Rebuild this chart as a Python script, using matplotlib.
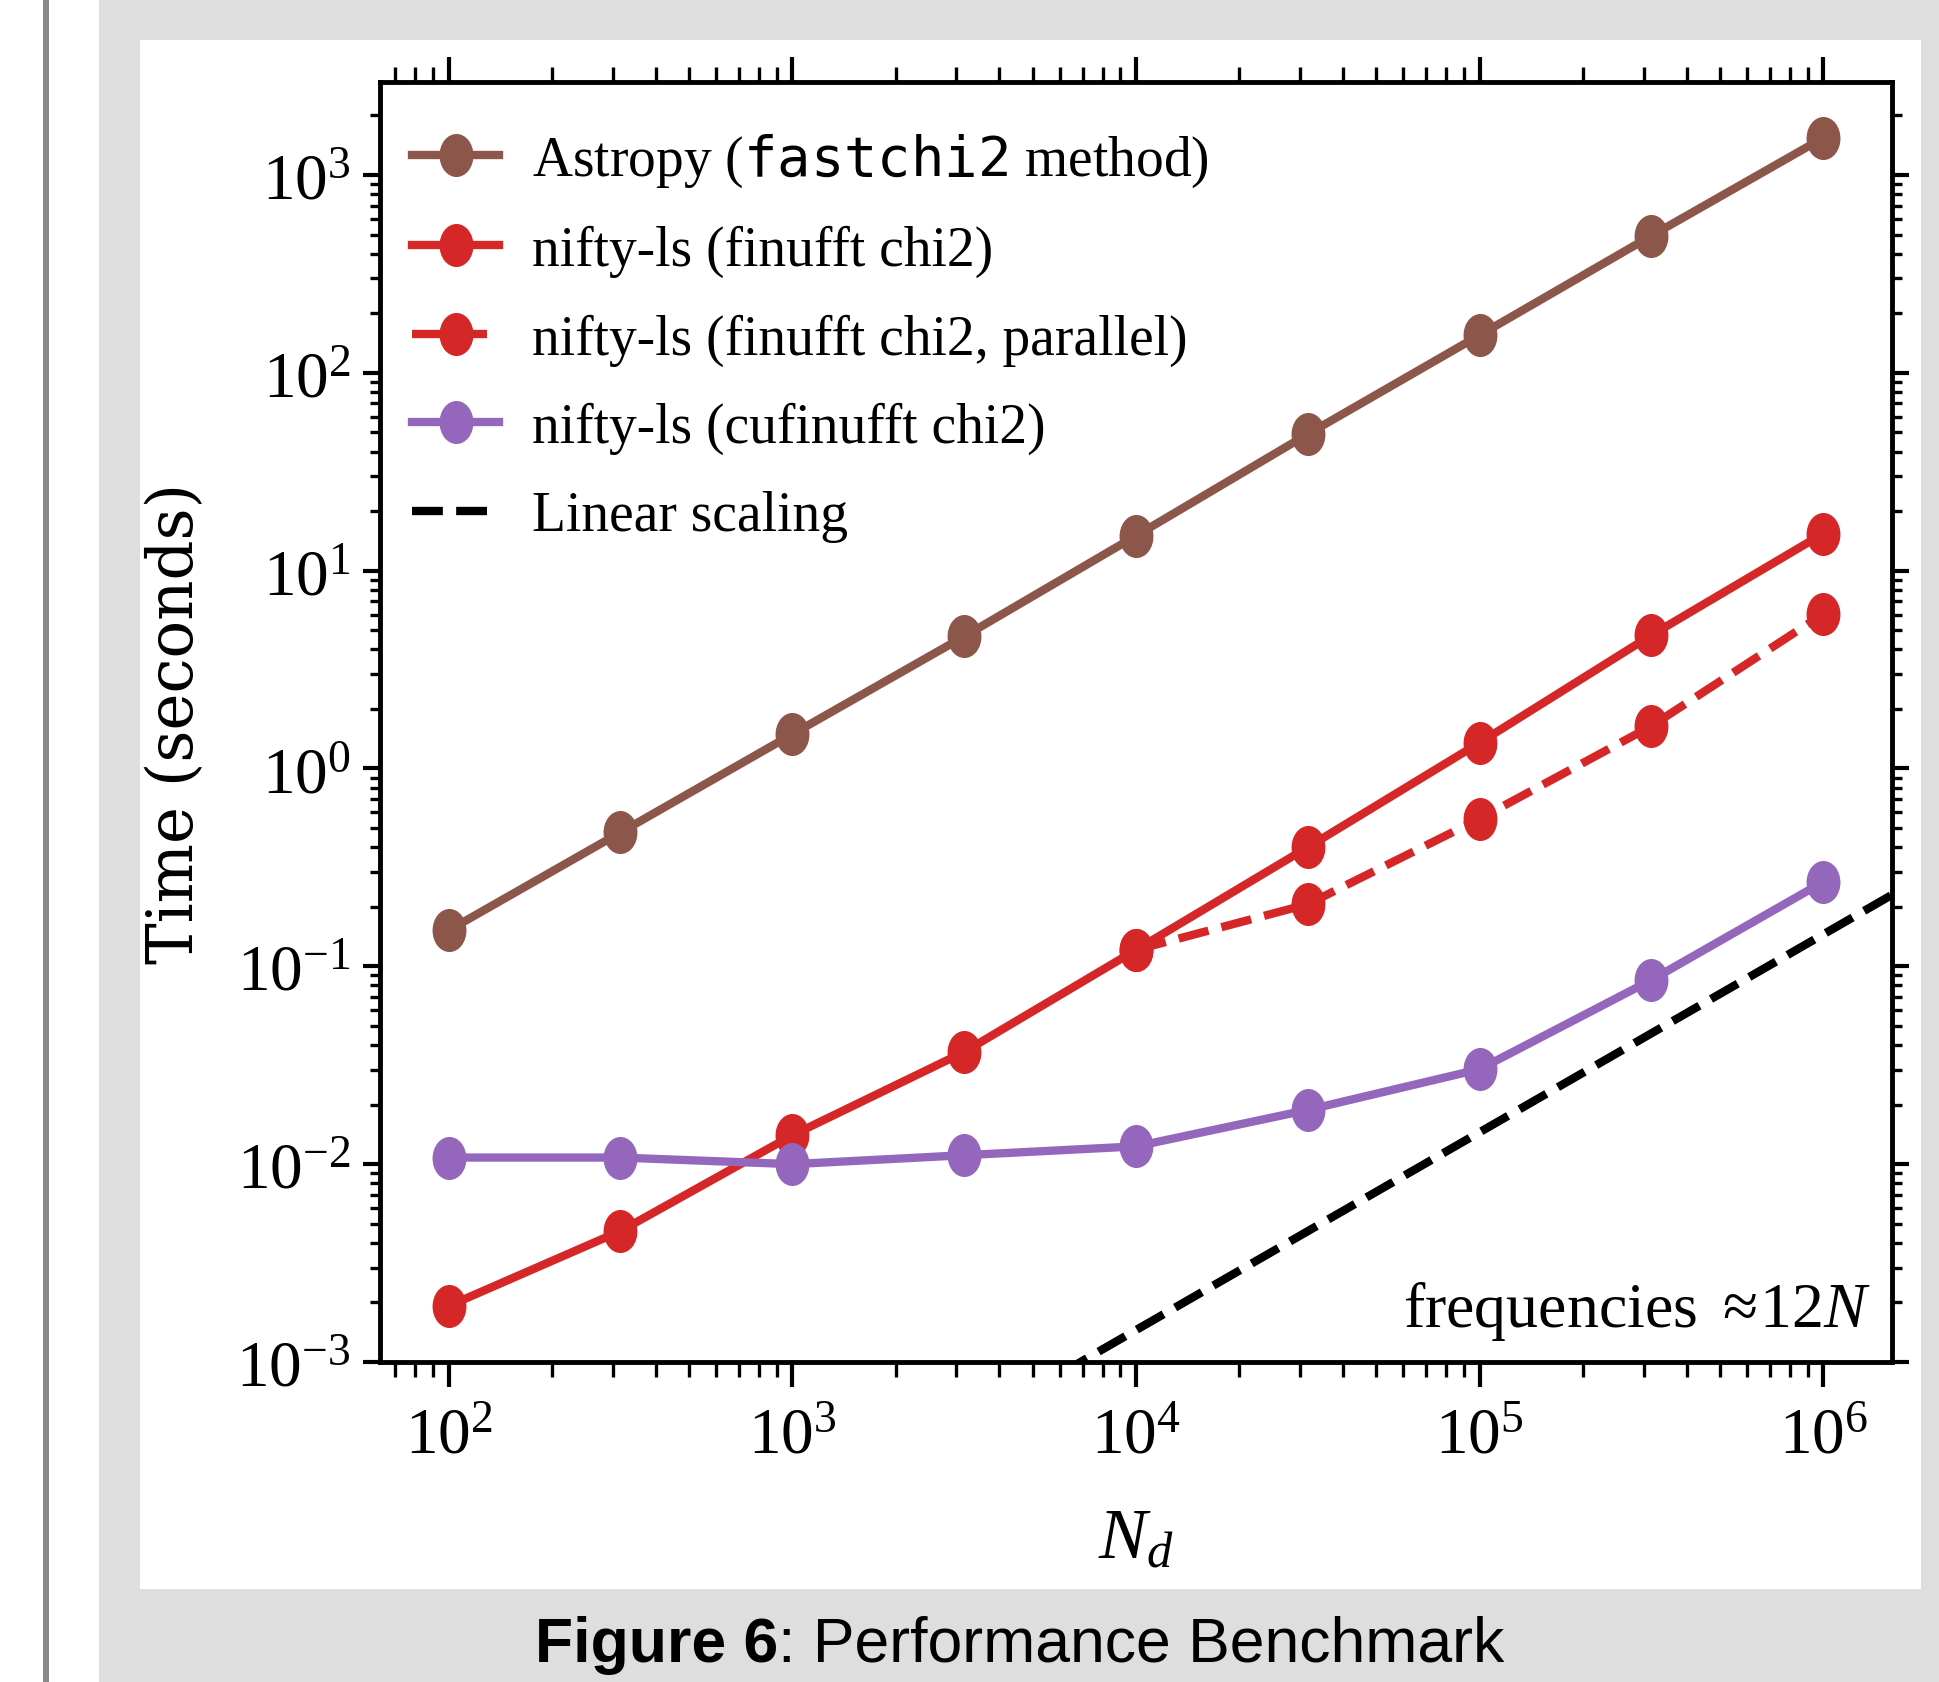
import matplotlib
matplotlib.use("Agg")
import matplotlib.pyplot as plt
from matplotlib.path import Path
from matplotlib.patches import Rectangle

# ---------------- data ----------------
N_points = [100, 316, 1000, 3162, 10000, 31623, 100000, 316228, 1000000]
t_astropy = [0.152, 0.475, 1.49, 4.65, 15.0, 49.0, 155, 493, 1540]
t_finufft = [0.00192, 0.00459, 0.0140, 0.0369, 0.121, 0.400, 1.35, 4.72, 15.4]
N_parallel = [10000, 31623, 100000, 316228, 1000000]
t_parallel = [0.121, 0.206, 0.557, 1.64, 6.04]
t_cufinufft = [0.0108, 0.0108, 0.0100, 0.0111, 0.0123, 0.0188, 0.0302, 0.0853, 0.267]
N_linear = [1000, 10000000]
t_linear = [1.45e-4, 1.45]

labels = [r"Astropy ($\mathtt{fastchi2}$ method)",
          "nifty-ls (finufft chi2)",
          "nifty-ls (finufft chi2, parallel)",
          "nifty-ls (cufinufft chi2)",
          "Linear scaling"]
xlabel = r"$N_d$"
ylabel = "Time (seconds)"
note = r"frequencies $\approx\!12N$"
caption_bold = "Figure 6"
caption_rest = ": Performance Benchmark"

plt.rcParams["font.family"] = ["Liberation Serif", "DejaVu Serif"]
plt.rcParams["mathtext.fontset"] = "custom"
plt.rcParams["mathtext.rm"] = "Liberation Serif"
plt.rcParams["mathtext.it"] = "Liberation Serif:italic"
plt.rcParams["mathtext.bf"] = "Liberation Serif:bold"
plt.rcParams["mathtext.tt"] = "DejaVu Sans Mono"
plt.rcParams["mathtext.fallback"] = "stix"

W, H = 1940, 1683
fig = plt.figure(figsize=(W / 100, H / 100), dpi=100)
fig.patch.set_facecolor("white")

# background panels
fig.add_artist(Rectangle((99 / W, 0), (W - 99) / W, 1, transform=fig.transFigure,
                         facecolor="#dedede", edgecolor="none", zorder=-20))
fig.add_artist(Rectangle((140 / W, (H - 1590) / H), (1921 - 140) / W, (1590 - 41) / H,
                         transform=fig.transFigure, facecolor="white",
                         edgecolor="none", zorder=-15))
fig.add_artist(Rectangle((43 / W, 0), 6 / W, 1, transform=fig.transFigure,
                         facecolor="#8a8a8a", edgecolor="none", zorder=-15))

ax = fig.add_axes([380 / W, (H - 1363) / H, (1892 - 380) / W, (1363 - 83) / H])

circ = Path.unit_circle()
ell = Path(circ.vertices * [0.78, 1.0], circ.codes)

lw = 6.0
ms = 30
c_brown, c_red, c_purple = "#8c564b", "#d62728", "#9467bd"
ax.plot(N_points, t_astropy, "-", color=c_brown, lw=lw, marker=ell, ms=ms, label=labels[0])
ax.plot(N_points, t_finufft, "-", color=c_red, lw=lw, marker=ell, ms=ms, label=labels[1])
ax.plot(N_parallel, t_parallel, "--", color=c_red, lw=lw, marker=ell, ms=ms, label=labels[2])
ax.plot(N_points, t_cufinufft, "-", color=c_purple, lw=lw, marker=ell, ms=ms, label=labels[3])
ax.plot(N_linear, t_linear, "--", color="black", lw=lw, label=labels[4])

ax.set_xscale("log")
ax.set_yscale("log")
ax.set_xlim(10 ** 1.8, 10 ** 6.2)
ax.set_ylim(1e-3, 2.95e3)

for s in ax.spines.values():
    s.set_linewidth(3.5)
ax.tick_params(which="both", direction="out", top=True, right=True, labelsize=47)
ax.tick_params(axis="x", which="major", length=18, width=3, pad=14)
ax.tick_params(axis="x", which="minor", length=11, width=2.4)
ax.tick_params(axis="y", which="major", length=12, width=3, pad=9)
ax.tick_params(axis="y", which="minor", length=7, width=2.4)

ax.set_xlabel(xlabel, fontsize=52, labelpad=30)
ax.set_ylabel(ylabel, fontsize=45, fontfamily="DejaVu Serif")
ax.yaxis.set_label_coords(-0.115, 0.5)

ax.text(0.986, 0.028, note, transform=ax.transAxes, ha="right", va="baseline", fontsize=46)

ax.legend(loc="upper left", bbox_to_anchor=(0.0066, 0.979), frameon=False, fontsize=40,
          handlelength=1.56, handletextpad=0.6, labelspacing=0.65, borderaxespad=0.0,
          borderpad=0.4)

# caption
t1 = fig.text(0, 21 / H, caption_bold, fontfamily="Liberation Sans", fontweight="bold",
              fontsize=45, va="baseline", ha="left")
t2 = fig.text(0, 21 / H, caption_rest, fontfamily="Liberation Sans", fontweight="normal",
              fontsize=45, va="baseline", ha="left")
fig.canvas.draw()
r = fig.canvas.get_renderer()
w1 = t1.get_window_extent(r).width
w2 = t2.get_window_extent(r).width
x0 = 1020 - (w1 + w2) / 2
t1.set_x(x0 / W)
t2.set_x((x0 + w1) / W)

fig.savefig("out.png", dpi=100)
